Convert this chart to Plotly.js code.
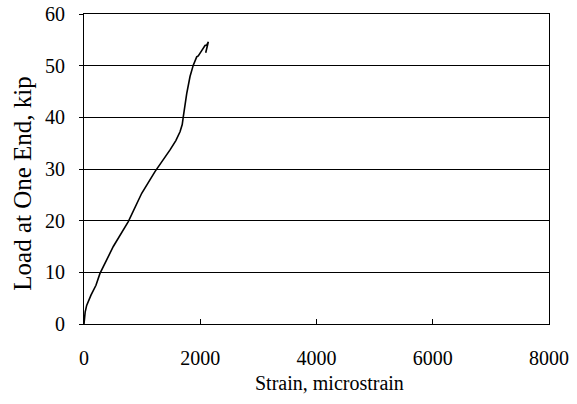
<!DOCTYPE html>
<html><head><meta charset="utf-8">
<script src="https://cdn.plot.ly/plotly-3.0.1.min.js"></script>
<style>body{margin:0;background:#fff}#c{width:577px;height:404px}</style>
</head><body><div id="c"></div>
<script>
const strain = [0, 5, 20, 46, 120, 206, 275, 504, 762, 993, 1221, 1480, 1580, 1652, 1690, 1708, 1735, 1767, 1824, 1880, 1939, 1966, 2025, 2082, 2111, 2139, 2094, 2110, 2100, 2130];
const load   = [0, 1, 2.3, 3.6, 5.6, 7.5, 9.8, 15, 19.8, 25.3, 29.5, 33.7, 35.5, 37.2, 38.6, 40.1, 42.3, 44.6, 47.9, 50.1, 51.7, 51.9, 52.9, 53.9, 54.0, 54.6, 52.5, 53.6, 52.8, 54.2];
const xTicks = [0, 2000, 4000, 6000, 8000];
const yTicks = [0, 10, 20, 30, 40, 50, 60];
const xTitle = 'Strain, microstrain';
const yTitle = 'Load at One End, kip';
const font = {family: 'Liberation Serif, Times New Roman, serif', size: 20, color: '#000'};
const yTitleFont = {family: 'Liberation Serif, Times New Roman, serif', size: 25, color: '#000'};
Plotly.newPlot('c', [{
  x: strain, y: load, type: 'scatter', mode: 'lines',
  line: {color: '#000', width: 1.6}, showlegend: false
}], {
  width: 577, height: 404,
  margin: {l: 84, r: 28, t: 14, b: 80},
  paper_bgcolor: '#fff', plot_bgcolor: '#fff',
  font: font,
  xaxis: {range: [0, 8000], tickvals: xTicks, ticks: 'inside', ticklen: 5, tickcolor: '#000',
    showgrid: false, zeroline: false, showline: true, linecolor: '#000', linewidth: 1, mirror: true,
    tickfont: font, ticklabelstandoff: 16},
  yaxis: {range: [0, 60], tickvals: yTicks, ticks: 'outside', ticklen: 4, tickcolor: '#000',
    showgrid: true, gridcolor: '#000', gridwidth: 1, zeroline: false, showline: true, linecolor: '#000', linewidth: 1, mirror: true,
    tickfont: font, ticklabelstandoff: 10},
  annotations: [
    {text: xTitle, xref: 'paper', yref: 'paper', x: 0.529, y: -0.19, xanchor: 'center', yanchor: 'middle', showarrow: false, font: font},
    {text: yTitle, xref: 'paper', yref: 'paper', x: -0.133, y: 0.453, xanchor: 'center', yanchor: 'middle', textangle: -90, showarrow: false, font: yTitleFont}
  ]
}, {staticPlot: true});
</script></body></html>
